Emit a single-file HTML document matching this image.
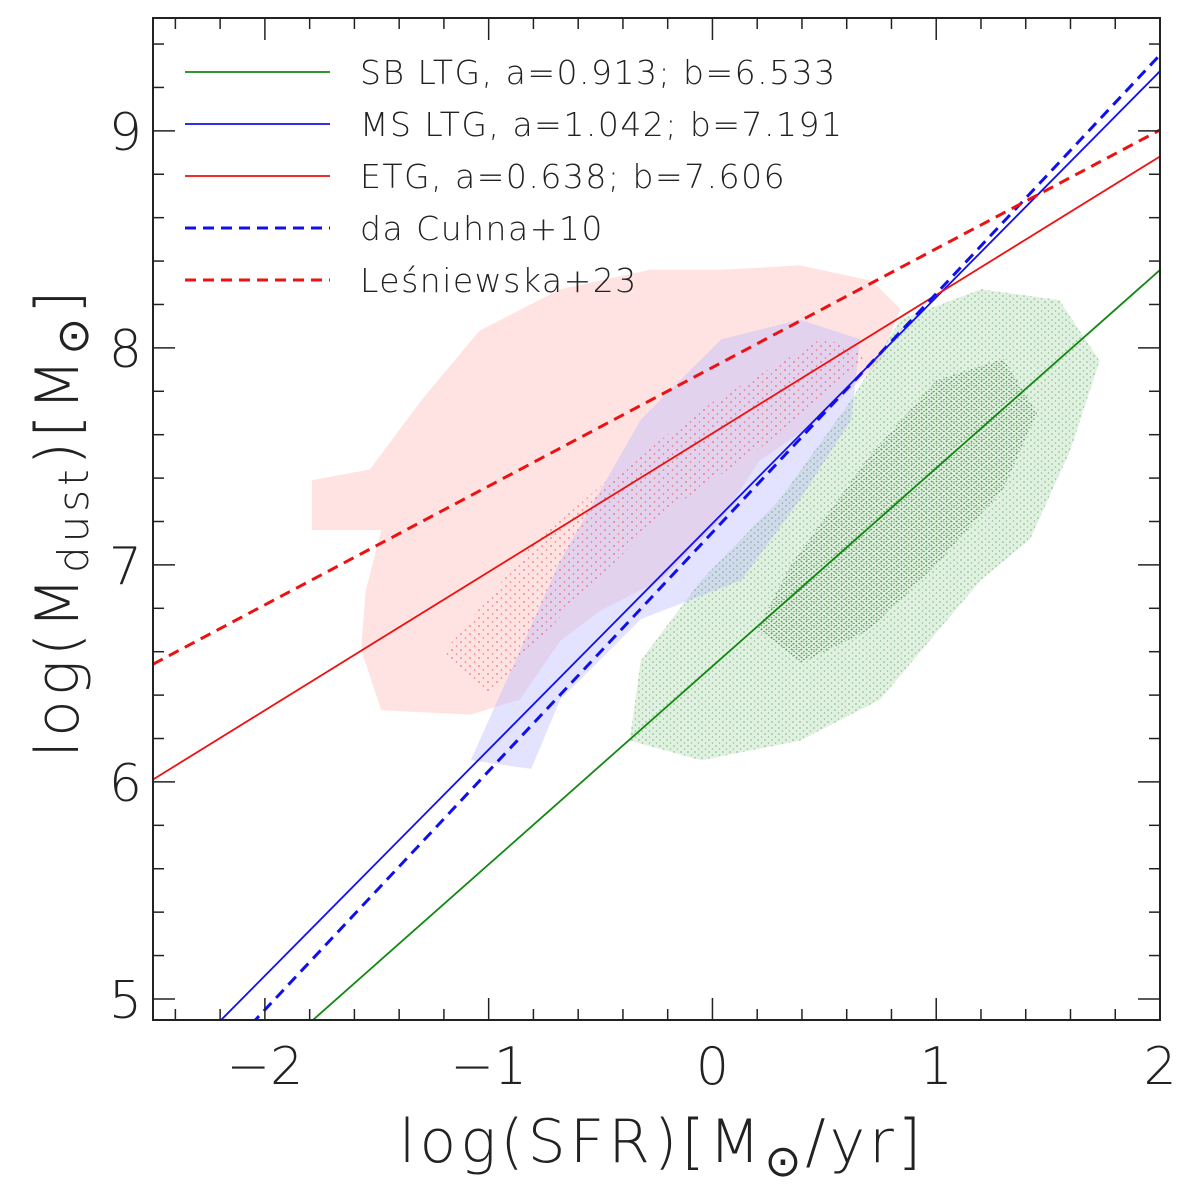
<!DOCTYPE html>
<html><head><meta charset="utf-8"><style>
body{margin:0;background:#fff;}
svg{display:block;font-family:"DejaVu Sans","Liberation Sans",sans-serif;}
.lt{font-weight:200;}
</style></head><body>
<svg id="chart" width="1200" height="1195" viewBox="0 0 1200 1195" xmlns="http://www.w3.org/2000/svg">
<defs>
<pattern id="gdots" width="7" height="6" patternUnits="userSpaceOnUse"><circle cx="2" cy="2" r="0.9" fill="#2a8a2a"/><circle cx="5.5" cy="5" r="0.8" fill="#2a8a2a"/></pattern>
<pattern id="gdots2" width="5" height="4" patternUnits="userSpaceOnUse"><circle cx="1.5" cy="1.5" r="0.9" fill="#1f7a1f"/><circle cx="4" cy="3.5" r="0.8" fill="#1f7a1f"/></pattern>
<pattern id="rdots" width="9" height="8" patternUnits="userSpaceOnUse"><circle cx="2" cy="2" r="0.9" fill="#f04040"/><circle cx="6.5" cy="6" r="0.8" fill="#f04040"/></pattern>
<clipPath id="plotclip"><rect x="153" y="18" width="1007" height="1002"/></clipPath>
</defs>
<g id="regions" clip-path="url(#plotclip)"></g>
<g id="lines" clip-path="url(#plotclip)"></g>
<g id="axes"></g>
<g id="legend"></g>
<text class="lt" x="662" y="1162" font-size="60" letter-spacing="4" text-anchor="middle" fill="#222">log(SFR)[M<tspan font-size="44" dy="14">⊙</tspan><tspan dy="-14">/yr]</tspan></text>
<text class="lt" transform="translate(78,522) rotate(-90)" font-size="60" letter-spacing="4" text-anchor="middle" fill="#222">log(M<tspan font-size="42" dy="10">dust</tspan><tspan dy="-10">)[M</tspan><tspan font-size="44" dy="10">⊙</tspan><tspan dy="-10">]</tspan></text>
</svg>
<script>
const xTicks=[-2,-1,0,1,2];
const yTicks=[5,6,7,8,9];
const fitNames=["SB LTG, a=0.913; b=6.533","MS LTG, a=1.042; b=7.191","ETG, a=0.638; b=7.606","da Cuhna+10","Leśniewska+23"];
const fitSlopes=[0.913,1.042,0.638,1.1,0.547];
const fitIntercepts=[6.533,7.191,7.606,7.15,7.91];
const fitColors=["#118811","#1010ee","#ee1111","#1010ee","#ee1111"];
const fitDashed=[false,false,false,true,true];
const redRegionX=[-1.79,-1.53,-1.30,-1.04,-0.68,-0.28,0.04,0.39,0.71,0.84,0.75,0.48,0.21,0.04,-0.23,-0.50,-0.68,-0.86,-1.08,-1.48,-1.57,-1.55,-1.48,-1.79];
const redRegionY=[7.39,7.44,7.76,8.08,8.27,8.36,8.36,8.38,8.31,8.18,7.94,7.67,7.48,7.21,6.93,6.79,6.65,6.38,6.31,6.33,6.61,6.88,7.16,7.16];
const blueRegionX=[-1.08,-0.68,-0.32,0.04,0.39,0.66,0.62,0.39,0.13,-0.32,-0.68,-0.81];
const blueRegionY=[6.10,7.02,7.67,8.04,8.13,8.04,7.67,7.30,6.93,6.75,6.38,6.06];
const greenRegionX=[-0.32,-0.05,0.30,0.62,0.84,1.20,1.55,1.73,1.60,1.42,1.20,0.97,0.75,0.39,-0.05,-0.37];
const greenRegionY=[6.56,6.93,7.30,7.76,8.13,8.27,8.22,7.94,7.53,7.12,6.93,6.65,6.38,6.19,6.10,6.19];
const greenCoreX=[0.35,0.7,1.0,1.3,1.45,1.3,1.0,0.7,0.4,0.2];
const greenCoreY=[7.0,7.5,7.85,7.95,7.7,7.35,7.0,6.7,6.55,6.7];
const redCoreX=[-1.2,-0.8,-0.4,0.0,0.5,0.7,0.3,-0.2,-0.6,-1.0];
const redCoreY=[6.6,7.1,7.45,7.75,8.05,7.95,7.6,7.25,6.85,6.4];

const X0=153,X1=1160,Y0=18,Y1=1020;
const xMin=-2.5,xMax=2,yMin=4.903,yMax=9.52;
const sx=v=>X0+(v-xMin)/(xMax-xMin)*(X1-X0);
const sy=v=>Y1-(v-yMin)/(yMax-yMin)*(Y1-Y0);
const NS="http://www.w3.org/2000/svg";
function mk(tag,attrs,parent){const e=document.createElementNS(NS,tag);for(const k in attrs)e.setAttribute(k,attrs[k]);parent.appendChild(e);return e;}
const regions=document.getElementById('regions');
function poly(xs,ys,fill,op,name){
  const pts=xs.map((x,i)=>sx(x)+","+sy(ys[i])).join(" ");
  const p=mk('polygon',{points:pts,fill:fill,'fill-opacity':op},regions);
  
  
}
poly(redRegionX,redRegionY,"#ffb0b0",0.35,"etg-density-region");
poly(greenRegionX,greenRegionY,"#a8d8a8",0.35,"sb-ltg-density-region");
poly(blueRegionX,blueRegionY,"#b8b8ff",0.4,"ms-ltg-density-region");
poly(greenRegionX,greenRegionY,"url(#gdots)",0.45,"sb-ltg-scatter");
poly(greenCoreX,greenCoreY,"url(#gdots2)",0.7,"sb-ltg-scatter-core");
poly(redCoreX,redCoreY,"url(#rdots)",0.7,"etg-scatter");

const lines=document.getElementById('lines');
fitSlopes.forEach((a,i)=>{
  const b=fitIntercepts[i];
  const l=mk('line',{x1:sx(xMin),y1:sy(a*xMin+b),x2:sx(xMax),y2:sy(a*xMax+b),stroke:fitColors[i],'stroke-width':fitDashed[i]?3:1.8},lines);
  if(fitDashed[i])l.setAttribute('stroke-dasharray','11,7');
  
  
});

const axes=document.getElementById('axes');
const fr=mk('rect',{x:X0,y:Y0,width:X1-X0,height:Y1-Y0,fill:'none',stroke:'#222','stroke-width':2},axes);


for(let v=-2.4;v<=2.001;v+=0.2){
  const major=Math.abs(v-Math.round(v))<1e-6;const L=major?22:11;const x=sx(v);
  mk('line',{x1:x,y1:Y1,x2:x,y2:Y1-L,stroke:'#222','stroke-width':1.5},axes);
  mk('line',{x1:x,y1:Y0,x2:x,y2:Y0+L,stroke:'#222','stroke-width':1.5},axes);
}
for(let v=5;v<=9.5;v+=0.2){
  const major=Math.abs(v-Math.round(v))<1e-6;const L=major?22:11;const y=sy(v);
  mk('line',{x1:X0,y1:y,x2:X0+L,y2:y,stroke:'#222','stroke-width':1.5},axes);
  mk('line',{x1:X1,y1:y,x2:X1-L,y2:y,stroke:'#222','stroke-width':1.5},axes);
}
xTicks.forEach(v=>{
  const t=mk('text',{x:sx(v),y:1084,'font-size':52,'text-anchor':'middle',fill:'#222','class':'lt'},axes);
  t.textContent=v<0?'\u2212'+Math.abs(v):String(v);
  
  
});
yTicks.forEach(v=>{
  const t=mk('text',{x:142,y:sy(v)+19,'font-size':52,'text-anchor':'end',fill:'#222','class':'lt'},axes);
  t.textContent=String(v);
  
  
});
const legend=document.getElementById('legend');
fitNames.forEach((n,i)=>{
  const y=72+i*52;
  const g=mk('g',{},legend);
  
  
  const l=mk('line',{x1:185,y1:y,x2:330,y2:y,stroke:fitColors[i],'stroke-width':fitDashed[i]?3:1.8},g);
  if(fitDashed[i])l.setAttribute('stroke-dasharray','11,7');
  const t=mk('text',{x:360,y:y+12,'font-size':33,'letter-spacing':1.5,fill:'#222','class':'lt'},g);
  t.textContent=n;
});
</script>
</body></html>
